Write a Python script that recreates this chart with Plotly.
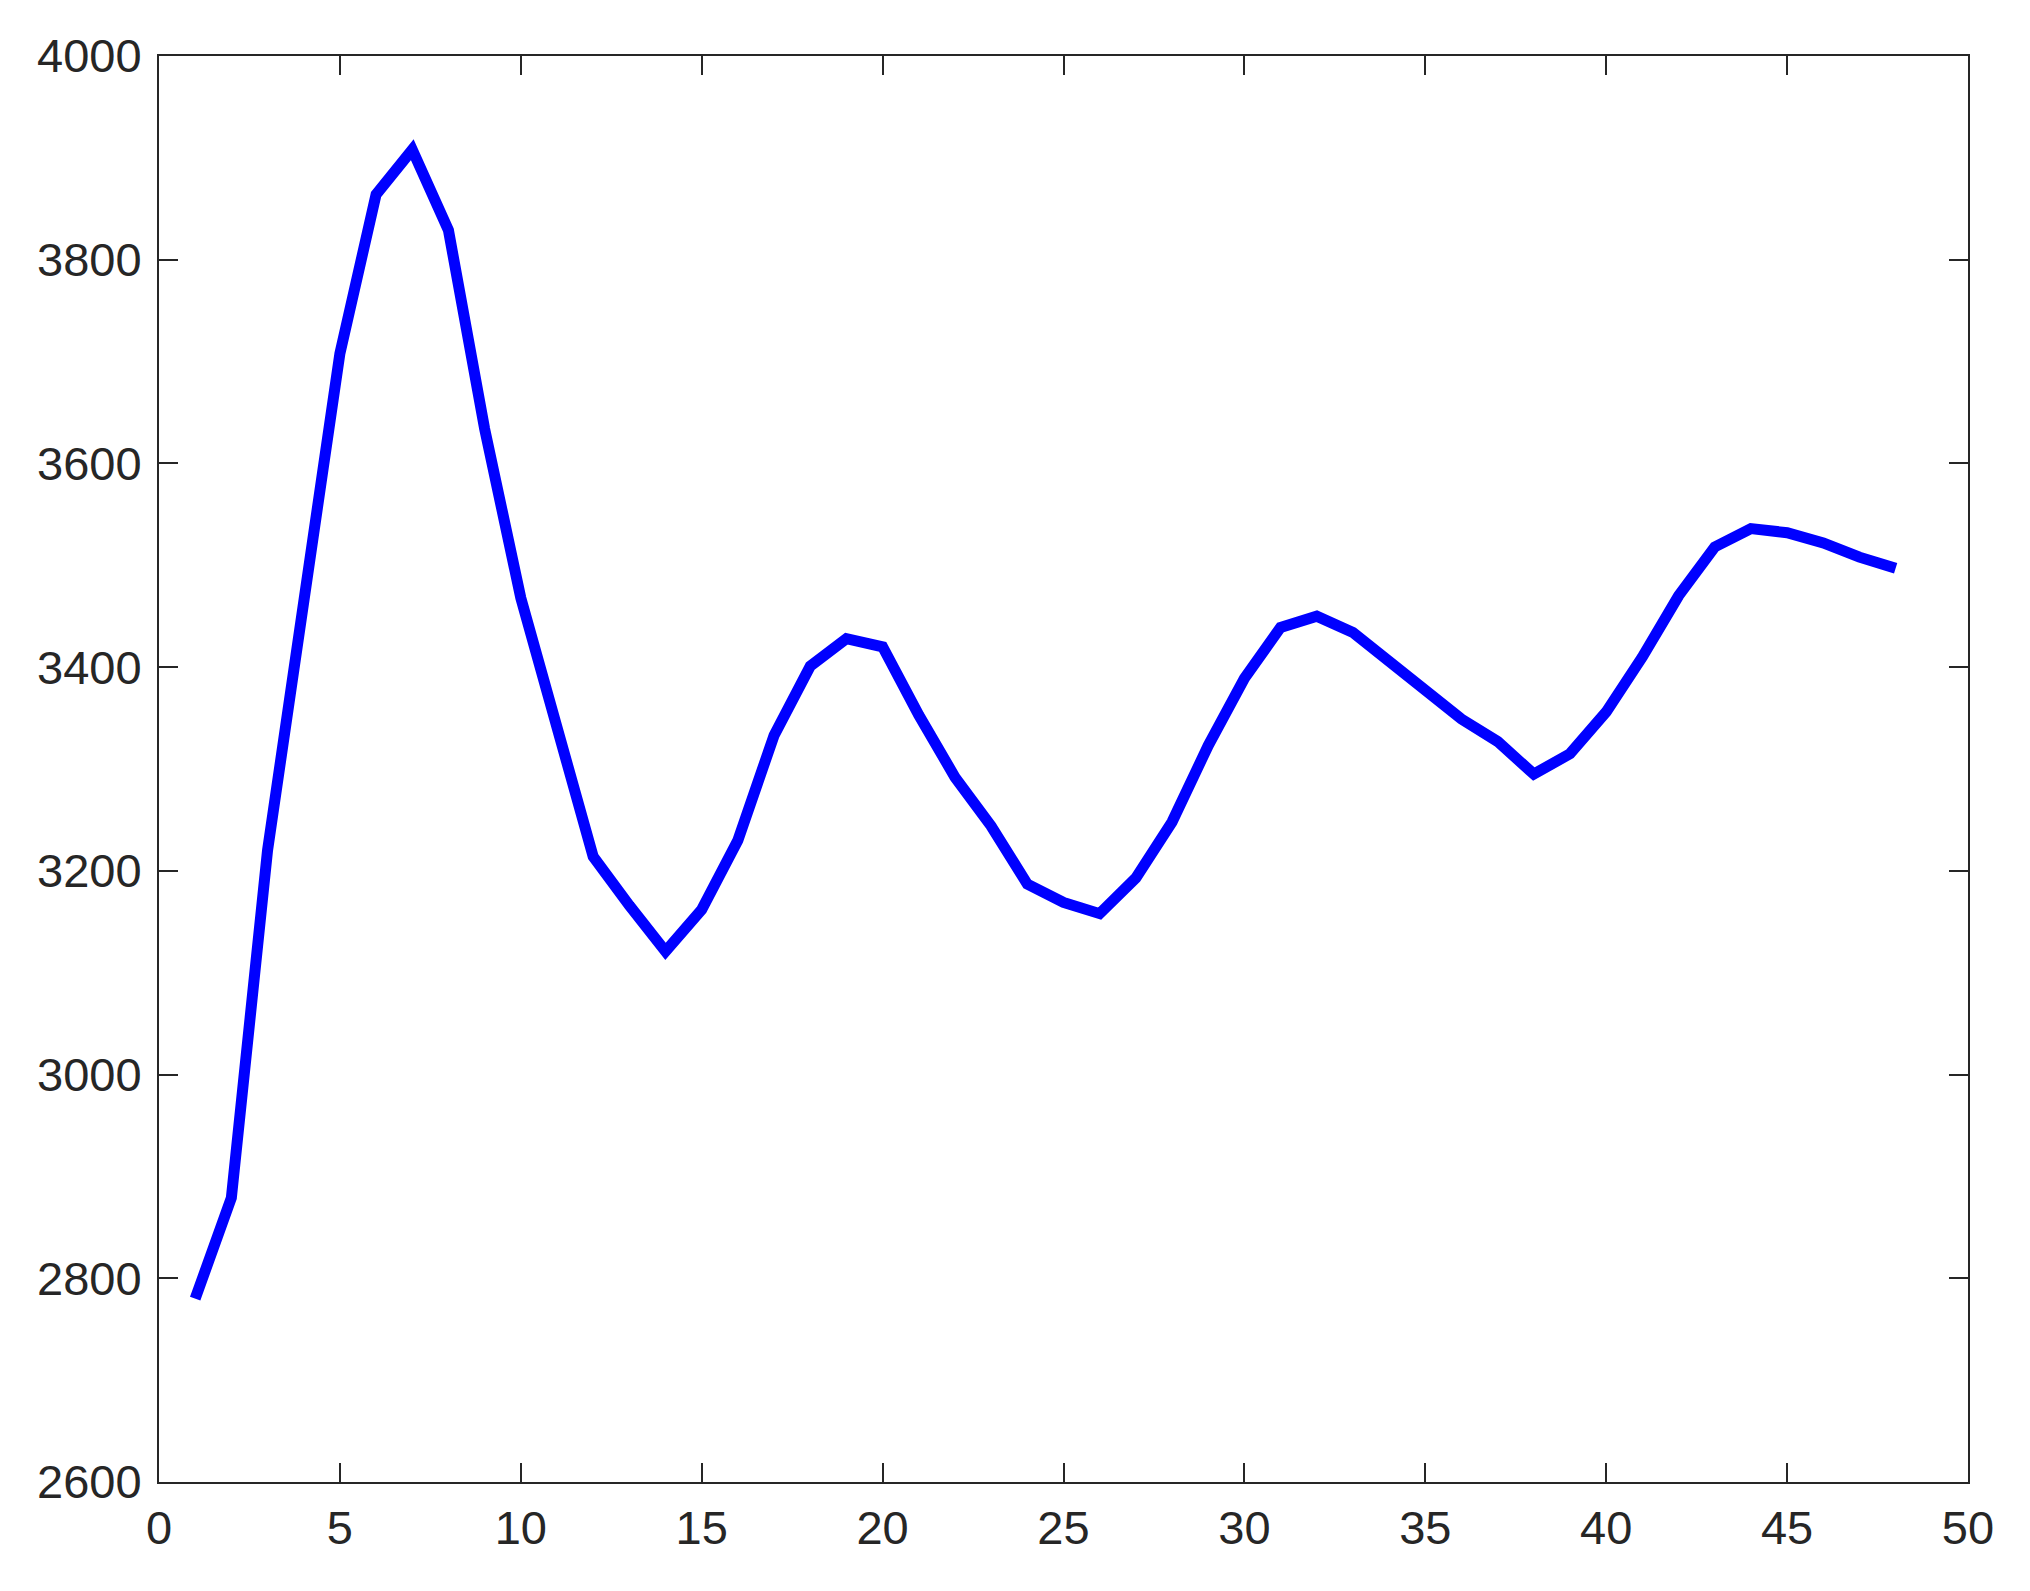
import plotly.graph_objects as go

# valeurs (un point par pas entier)
steps = list(range(1, 49))
values = [
    2780, 2879, 3220, 3464, 3708, 3864, 3908, 3829, 3634, 3468,
    3342, 3214, 3166, 3121, 3162, 3230, 3333, 3401, 3428, 3420,
    3353, 3292, 3244, 3187, 3169, 3158, 3193, 3248, 3323, 3389,
    3439, 3450, 3434, 3405, 3378, 3349, 3327, 3295, 3315, 3356,
    3410, 3470, 3518, 3536, 3532, 3522, 3508, 3497,
]

AXIS = "#262626"

fig = go.Figure()
fig.add_trace(go.Scatter(
    x=steps, y=values, mode="lines",
    line=dict(color="#0000FF", width=11),
    showlegend=False,
))

axis_style = dict(
    showline=True, linecolor=AXIS, linewidth=2, mirror="ticks",
    ticks="inside", ticklen=19, tickwidth=2, tickcolor=AXIS,
    showgrid=False, zeroline=False,
    tickfont=dict(family="Liberation Sans, Arial, sans-serif", size=47, color=AXIS),
)
fig.update_xaxes(range=[0, 50], dtick=5, tick0=0, ticklabelstandoff=4, **axis_style)
fig.update_yaxes(range=[2600, 4000], dtick=200, tick0=2600, ticklabelstandoff=6, **axis_style)

# la page ajoute une marge de 8 px autour du graphe
fig.update_layout(
    width=2014, height=1575,
    margin=dict(l=151, r=54, t=48, b=101),
    plot_bgcolor="white", paper_bgcolor="white",
)

fig.write_html("out.html")
